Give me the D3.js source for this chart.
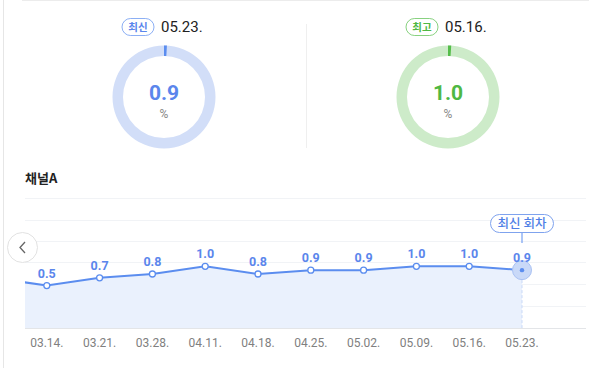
<!DOCTYPE html>
<html>
<head>
<meta charset="utf-8">
<title>채널A</title>
<script src="https://cdn.jsdelivr.net/npm/d3@7"></script>
<style>
  body { margin: 0; background: #fff; }
  svg { display: block; font-family: "Noto Sans CJK KR", "Noto Sans", sans-serif; }
</style>
</head>
<body>
<script>
// data
var dates = ["03.07.", "03.14.", "03.21.", "03.28.", "04.11.", "04.18.", "04.25.", "05.02.", "05.09.", "05.16.", "05.23."];
var values = [0.7, 0.5, 0.7, 0.8, 1.0, 0.8, 0.9, 0.9, 1.0, 1.0, 0.9];
var donutLabels = ["최신", "최고"];
var donutDates = ["05.23.", "05.16."];
var donutValues = [0.9, 1.0];
var donutColors = ["#5b8def", "#55bd4a"];
var donutTracks = ["#d2def8", "#cdebc9"];
var donutText = ["#5b86ec", "#4fb843"];

var W = 602, H = 368;
var svg = d3.select("body").append("svg").attr("width", W).attr("height", H);

// frame lines
svg.append("line").attr("x1", 22).attr("x2", 589).attr("y1", 0.5).attr("y2", 0.5)
  .attr("stroke", "#ececec");
svg.append("line").attr("x1", 3.5).attr("x2", 3.5).attr("y1", 0).attr("y2", H)
  .attr("stroke", "#e6e6e6");
svg.append("line").attr("x1", 306.5).attr("x2", 306.5).attr("y1", 24).attr("y2", 148)
  .attr("stroke", "#efefef");

// donuts
var donutX = [164, 448];
var arc = d3.arc().innerRadius(41).outerRadius(51.5);
donutValues.forEach(function (v, i) {
  var g = svg.append("g").attr("transform", "translate(" + donutX[i] + ",97)");
  g.append("path").attr("d", arc({startAngle: 0, endAngle: 2 * Math.PI})).attr("fill", donutTracks[i]);
  g.append("path").attr("d", arc({startAngle: 0, endAngle: v / 100 * 2 * Math.PI})).attr("fill", donutColors[i]);
  g.append("text").attr("y", 3).attr("text-anchor", "middle")
    .attr("font-size", 21).attr("font-weight", "bold").attr("fill", donutText[i])
    .attr("font-family", "Roboto, 'Noto Sans', sans-serif")
    .text(v.toFixed(1));
  g.append("text").attr("y", 21).attr("text-anchor", "middle")
    .attr("font-size", 12).attr("fill", "#888")
    .attr("font-family", "Roboto, 'Noto Sans', sans-serif").text("%");

  var bx = donutX[i] - 42;
  svg.append("rect").attr("x", bx).attr("y", 18.5).attr("width", 32).attr("height", 17)
    .attr("rx", 8.5).attr("fill", "#fff").attr("stroke", donutColors[i]).attr("stroke-opacity", 0.7);
  svg.append("text").attr("x", bx + 16).attr("y", 31).attr("text-anchor", "middle")
    .attr("font-size", 10.5).attr("font-weight", "bold").attr("fill", donutText[i])
    .text(donutLabels[i]);
  svg.append("text").attr("x", bx + 39).attr("y", 32)
    .attr("font-size", 15).attr("fill", "#222")
    .attr("font-family", "Roboto, 'Noto Sans', sans-serif")
    .text(donutDates[i]);
});

// title
svg.append("text").attr("x", 25).attr("y", 183).attr("font-size", 13)
  .attr("font-weight", "bold").attr("fill", "#222").text("채널A");

// line chart
var x = d3.scalePoint().domain(dates).range([-6, 522]);
var y = d3.scaleLinear().domain([-0.6, 2.77]).range([328, 198]);

svg.append("clipPath").attr("id", "clip").append("rect")
  .attr("x", 25).attr("y", 190).attr("width", 561).attr("height", 140);

var grid = [2.77, 2.2, 1.65, 1.1, 0.54, -0.03];
svg.append("g").selectAll("line").data(grid).join("line")
  .attr("x1", 25).attr("x2", 586)
  .attr("y1", function (d) { return Math.round(y(d)) + 0.5; })
  .attr("y2", function (d) { return Math.round(y(d)) + 0.5; })
  .attr("stroke", "#f1f3f6");
svg.append("line").attr("x1", 25).attr("x2", 586).attr("y1", 328.5).attr("y2", 328.5)
  .attr("stroke", "#e3e5e8");

var plot = svg.append("g").attr("clip-path", "url(#clip)");
var area = d3.area().x(function (d, i) { return x(dates[i]); }).y0(y(-0.6)).y1(function (d) { return y(d); });
var line = d3.line().x(function (d, i) { return x(dates[i]); }).y(function (d) { return y(d); });

plot.append("path").datum(values).attr("d", area).attr("fill", "#eaf1fd");
var last = dates.length - 1;
plot.append("line").attr("x1", x(dates[last])).attr("x2", x(dates[last]))
  .attr("y1", y(values[last])).attr("y2", 328)
  .attr("stroke", "#c9d9f7").attr("stroke-dasharray", "3,2");
plot.append("path").datum(values).attr("d", line).attr("fill", "none")
  .attr("stroke", "#5b8def").attr("stroke-width", 2);

// last point highlight
plot.append("circle").attr("cx", x(dates[last])).attr("cy", y(values[last])).attr("r", 9.5)
  .attr("fill", "#c9d9f8").attr("stroke", "#a9c1f3").attr("stroke-width", 1);
plot.append("circle").attr("cx", x(dates[last])).attr("cy", y(values[last])).attr("r", 2.2)
  .attr("fill", "#5b8def");

var shown = d3.range(1, dates.length);
plot.selectAll(".pt").data(shown.slice(0, -1)).join("circle").attr("class", "pt")
  .attr("cx", function (i) { return x(dates[i]); })
  .attr("cy", function (i) { return y(values[i]); })
  .attr("r", 3).attr("fill", "#fff").attr("stroke", "#5b8def").attr("stroke-width", 1.3);

svg.selectAll(".val").data(shown).join("text").attr("class", "val")
  .attr("x", function (i) { return x(dates[i]); })
  .attr("y", function (i) { return y(values[i]) - 8; })
  .attr("text-anchor", "middle").attr("font-size", 12.5).attr("font-weight", "bold")
  .attr("fill", "#5b86ec").attr("font-family", "Roboto, 'Noto Sans', sans-serif")
  .text(function (i) { return values[i].toFixed(1); });

svg.selectAll(".xl").data(shown).join("text").attr("class", "xl")
  .attr("x", function (i) { return x(dates[i]); })
  .attr("y", 347).attr("text-anchor", "middle").attr("font-size", 12)
  .attr("fill", "#808080").attr("font-family", "Roboto, 'Noto Sans', sans-serif")
  .text(function (i) { return dates[i]; });

// latest tag
var lx = x(dates[last]);
svg.append("line").attr("x1", lx).attr("x2", lx).attr("y1", 232).attr("y2", 243)
  .attr("stroke", "#5b8def");
svg.append("rect").attr("x", lx - 31.5).attr("y", 214.5).attr("width", 63).attr("height", 18)
  .attr("rx", 9).attr("fill", "#fff").attr("stroke", "#7fa3ee");
svg.append("text").attr("x", lx).attr("y", 228).attr("text-anchor", "middle")
  .attr("font-size", 12.5).attr("font-weight", 500).attr("fill", "#4f7fe6").text("최신 회차");

// prev button
svg.append("circle").attr("cx", 22.5).attr("cy", 247.5).attr("r", 15)
  .attr("fill", "#fff").attr("stroke", "#e2e2e2");
svg.append("path").attr("d", "M25,242 L20,247.5 L25,253").attr("fill", "none")
  .attr("stroke", "#666").attr("stroke-width", 1.3);
</script>
</body>
</html>
